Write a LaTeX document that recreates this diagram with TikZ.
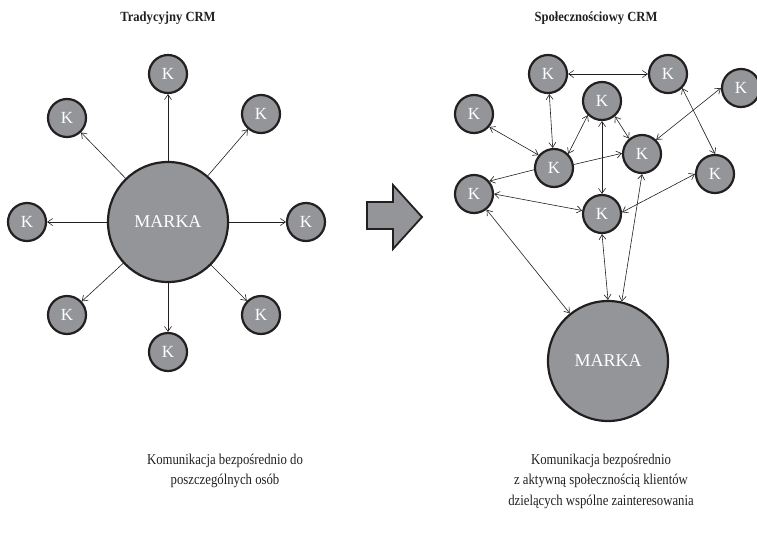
\documentclass[tikz,border=0pt]{standalone}
\usepackage{fontspec}
\setmainfont{Liberation Serif}
\newfontfamily\narrowserif[FakeStretch=0.85]{Liberation Serif}
\newfontfamily\titleserif[FakeStretch=0.9]{Liberation Serif}
\usetikzlibrary{arrows.meta}
\definecolor{kfill}{HTML}{939598}
\definecolor{kline}{HTML}{231F20}
\begin{document}
\begin{tikzpicture}[x=1pt,y=-1pt,
  knode/.style={circle,draw=kline,fill=kfill,line width=2.2pt,minimum size=38pt,inner sep=0pt,text=white,font=\fontsize{17}{17}\selectfont},
  brand/.style={knode,minimum size=120pt,font=\fontsize{18}{18}\selectfont},
  tip/.tip={Straight Barb[length=5pt,width=7pt]},
  link/.style={draw=kline,line width=0.6pt,-tip},
  blink/.style={draw=kline,line width=0.6pt,tip-tip},
  title/.style={font=\titleserif\bfseries\fontsize{14}{16}\selectfont,text=kline},
  caption/.style={align=center,font=\narrowserif\fontsize{15}{20.5}\selectfont,text=kline}]
\useasboundingbox (0,0) rectangle (757,541);
\clip (0,0) rectangle (757,541);

% titles
\node[title] (t1) at (168,18) {Tradycyjny CRM};
\node[title] (t2) at (596,18) {Społecznościowy CRM};

% left diagram
\node[brand] (M1) at (168,222) {MARKA};
\node[knode] (L1) at (168,74) {K};
\node[knode] (L2) at (261,114) {K};
\node[knode] (L3) at (306,222) {K};
\node[knode] (L4) at (261,315) {K};
\node[knode] (L5) at (168,352) {K};
\node[knode] (L6) at (67,315) {K};
\node[knode] (L7) at (27,222) {K};
\node[knode] (L8) at (67,118) {K};
\foreach \k in {L1,L2,L3,L4,L5,L6,L7,L8}
  \draw[link] (M1) -- (\k);

% big arrow
\draw[fill=kfill,draw=kline,line width=1.8pt,line join=miter]
  (367,202) -- (393,202) -- (393,185) -- (422,217) -- (393,249) -- (393,229) -- (367,229) -- cycle;

% right diagram
\node[brand] (M2) at (608,361) {MARKA};
\node[knode] (K1) at (548,74) {K};
\node[knode] (K2) at (668,74) {K};
\node[knode] (K3) at (741,88) {K};
\node[knode] (K4) at (602,101) {K};
\node[knode] (K5) at (474,114) {K};
\node[knode] (K6) at (554,168) {K};
\node[knode] (K7) at (642,154) {K};
\node[knode] (K8) at (715,174) {K};
\node[knode] (K9) at (474,194) {K};
\node[knode] (K10) at (602,214) {K};

\draw[blink] (K1) -- (K2);
\draw[blink] (K1) -- (K6);
\draw[blink] (K4.-135) -- (K6.45);
\draw[blink] (K4.-50) -- (K7.130);
\draw[blink] (K4) -- (K10);
\draw[blink] (K5.-40) -- (K6.140);
\draw[link] (K6.10) -- (K7.178);
\draw[link] (K6.185) -- (K9.40);
\draw[blink] (K9.0) -- (K10.170);
\draw[blink] (K3.180) -- (K7.45);
\draw[blink] (K2.-45) -- (K8.90);
\draw[blink] (K8.180) -- (K10.5);
\draw[blink] (K7.south) -- (M2.77);
\draw[blink] (K10.south) -- (M2.north);
\draw[blink] (K9) -- (M2);

% captions
\node[caption] (c1) at (225,471) {Komunikacja bezpośrednio do\\poszczególnych osób};
\node[caption] (c2) at (601,481) {Komunikacja bezpośrednio\\z aktywną społecznością klientów\\dzielących wspólne zainteresowania};
\end{tikzpicture}
\end{document}
